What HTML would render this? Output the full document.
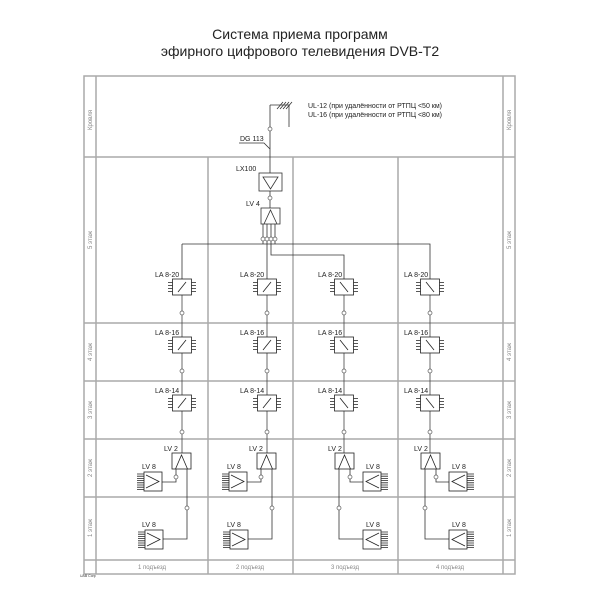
<!DOCTYPE html>
<html><head><meta charset="utf-8"><style>body{margin:0;background:#fff}svg{display:block}</style></head><body>
<svg width="600" height="600" viewBox="0 0 600 600" xmlns="http://www.w3.org/2000/svg" font-family="Liberation Sans, sans-serif">
<defs>
<g id="laR" fill="none" stroke="#222" stroke-width="0.8">
<rect x="-9.5" y="0" width="19" height="16" fill="#fff"/>
<path d="M-4 13 L4 3"/>
<path d="M-14 3.5h4.5M-14 6.5h4.5M-14 9.5h4.5M-14 12.5h4.5M9.5 3.5h4.5M9.5 6.5h4.5M9.5 9.5h4.5M9.5 12.5h4.5"/>
</g>
<g id="laL" fill="none" stroke="#222" stroke-width="0.8">
<rect x="-9.5" y="0" width="19" height="16" fill="#fff"/>
<path d="M-4 3 L4 13"/>
<path d="M-14 3.5h4.5M-14 6.5h4.5M-14 9.5h4.5M-14 12.5h4.5M9.5 3.5h4.5M9.5 6.5h4.5M9.5 9.5h4.5M9.5 12.5h4.5"/>
</g>
<g id="lv2" fill="none" stroke="#222" stroke-width="0.8">
<rect x="0" y="0" width="19" height="16" fill="#fff"/>
<path d="M3.5 16 L9.5 2 L15.5 16"/>
</g>
<g id="lv8r" fill="none" stroke="#222" stroke-width="0.8">
<rect x="0" y="0" width="18" height="19" fill="#fff"/>
<path d="M2 3 L15 9.5 L2 16"/>
<path d="M-7 2h7M-7 4.2h7M-7 6.4h7M-7 8.6h7M-7 10.8h7M-7 13h7M-7 15.2h7M-7 17.4h7"/>
</g>
<g id="lv8l" fill="none" stroke="#222" stroke-width="0.8">
<rect x="0" y="0" width="18" height="19" fill="#fff"/>
<path d="M16 3 L3 9.5 L16 16"/>
<path d="M18 2h7M18 4.2h7M18 6.4h7M18 8.6h7M18 10.8h7M18 13h7M18 15.2h7M18 17.4h7"/>
</g>
<circle id="c" r="2" fill="#fff" stroke="#555" stroke-width="0.7"/>
</defs>

<text x="300" y="39" font-size="14" text-anchor="middle" fill="#222">Система приема программ</text>
<text x="300" y="56" font-size="14" text-anchor="middle" fill="#222">эфирного цифрового телевидения DVB-T2</text>

<g fill="none" stroke="#aaa" stroke-width="1.5">
<rect x="84" y="76" width="431" height="498"/>
<path d="M96 76V574M503 76V574"/>
<path d="M84 157H515M84 323H515M84 381H515M84 439H515M84 497H515M84 560H515"/>
<path d="M208 157V574M293 157V574M398 157V574"/>
</g>

<g font-size="6" fill="#888" text-anchor="middle">
<text transform="translate(92,120) rotate(-90)">Кровля</text>
<text transform="translate(511,120) rotate(-90)">Кровля</text>
<text transform="translate(92,240) rotate(-90)">5 этаж</text>
<text transform="translate(511,240) rotate(-90)">5 этаж</text>
<text transform="translate(92,352) rotate(-90)">4 этаж</text>
<text transform="translate(511,352) rotate(-90)">4 этаж</text>
<text transform="translate(92,410) rotate(-90)">3 этаж</text>
<text transform="translate(511,410) rotate(-90)">3 этаж</text>
<text transform="translate(92,468) rotate(-90)">2 этаж</text>
<text transform="translate(511,468) rotate(-90)">2 этаж</text>
<text transform="translate(92,528) rotate(-90)">1 этаж</text>
<text transform="translate(511,528) rotate(-90)">1 этаж</text>
<text x="152" y="569">1 подъезд</text>
<text x="250" y="569">2 подъезд</text>
<text x="345" y="569">3 подъезд</text>
<text x="450" y="569">4 подъезд</text>
</g>
<text x="80" y="577" font-size="3.5" fill="#333">UAB Corp</text>

<g fill="none" stroke="#333" stroke-width="0.8">
<path d="M270 105V173M270 105H290M289 105V127"/>
<path d="M277 109l6-7M280 109l6-7M283 109l6-7M286 109l6-7"/>
<path d="M239 143H264L270 149"/>
<rect x="259" y="173" width="23" height="18"/>
<path d="M263 177H278L270.5 189Z"/>
<path d="M270 191V208"/>
<rect x="261" y="208" width="19" height="16"/>
<path d="M264 224L270.5 210L277 224"/>
<path d="M263 224V239M267 224V239M271 224V239M275 224V239"/>
<path d="M182 244H430V279"/>
<path d="M182 244V279"/>
<path d="M263 241V244M267 241V279M271 241V255H344V279M275 241V244"/>
</g>
<use href="#c" x="270" y="129"/><use href="#c" x="270" y="198"/>
<use href="#c" x="263" y="239"/><use href="#c" x="267" y="239"/><use href="#c" x="271" y="239"/><use href="#c" x="275" y="239"/>
<g font-size="7" fill="#222">
<text x="308" y="108">UL-12 (при удалённости от РТПЦ &lt;50 км)</text>
<text x="308" y="117">UL-16 (при удалённости от РТПЦ &lt;80 км)</text>
<text x="240" y="141">DG 113</text>
<text x="236" y="171">LX100</text>
<text x="246" y="206">LV 4</text>
</g>

<g fill="none" stroke="#444" stroke-width="0.8">
<path d="M182 279V453M267 279V453M344 279V453M430 279V453"/>
</g>
<g font-size="7" fill="#222">
<text x="155" y="277">LA 8-20</text><text x="240" y="277">LA 8-20</text><text x="318" y="277">LA 8-20</text><text x="404" y="277">LA 8-20</text>
<text x="155" y="335">LA 8-16</text><text x="240" y="335">LA 8-16</text><text x="318" y="335">LA 8-16</text><text x="404" y="335">LA 8-16</text>
<text x="155" y="393">LA 8-14</text><text x="240" y="393">LA 8-14</text><text x="318" y="393">LA 8-14</text><text x="404" y="393">LA 8-14</text>
</g>
<use href="#laR" x="182" y="279"/><use href="#laR" x="267" y="279"/><use href="#laL" x="344" y="279"/><use href="#laL" x="430" y="279"/>
<use href="#laR" x="182" y="337"/><use href="#laR" x="267" y="337"/><use href="#laL" x="344" y="337"/><use href="#laL" x="430" y="337"/>
<use href="#laR" x="182" y="395"/><use href="#laR" x="267" y="395"/><use href="#laL" x="344" y="395"/><use href="#laL" x="430" y="395"/>
<g>
<use href="#c" x="182" y="313"/><use href="#c" x="267" y="313"/><use href="#c" x="344" y="313"/><use href="#c" x="430" y="313"/>
<use href="#c" x="182" y="371"/><use href="#c" x="267" y="371"/><use href="#c" x="344" y="371"/><use href="#c" x="430" y="371"/>
<use href="#c" x="182" y="432"/><use href="#c" x="267" y="432"/><use href="#c" x="344" y="432"/><use href="#c" x="430" y="432"/>
</g>

<g fill="none" stroke="#333" stroke-width="0.8">
<path d="M176 469V482H162M187 469V539H163"/>
<path d="M261 469V482H247M272 469V539H248"/>
<path d="M350 469V482H363M339 469V539H363"/>
<path d="M436 469V482H449M425 469V539H449"/>
</g>
<use href="#lv2" x="172" y="453"/><use href="#lv2" x="257" y="453"/><use href="#lv2" x="335" y="453"/><use href="#lv2" x="421" y="453"/>
<use href="#lv8r" x="144" y="472"/><use href="#lv8r" x="229" y="472"/><use href="#lv8l" x="363" y="472"/><use href="#lv8l" x="449" y="472"/>
<use href="#lv8r" x="145" y="530"/><use href="#lv8r" x="230" y="530"/><use href="#lv8l" x="363" y="530"/><use href="#lv8l" x="449" y="530"/>
<use href="#c" x="176" y="477"/><use href="#c" x="261" y="477"/><use href="#c" x="350" y="477"/><use href="#c" x="436" y="477"/>
<use href="#c" x="187" y="508"/><use href="#c" x="272" y="508"/><use href="#c" x="339" y="508"/><use href="#c" x="425" y="508"/>
<g font-size="7" fill="#222">
<text x="164" y="451">LV 2</text><text x="249" y="451">LV 2</text><text x="328" y="451">LV 2</text><text x="414" y="451">LV 2</text>
<text x="142" y="469">LV 8</text><text x="227" y="469">LV 8</text><text x="366" y="469">LV 8</text><text x="452" y="469">LV 8</text>
<text x="142" y="527">LV 8</text><text x="227" y="527">LV 8</text><text x="366" y="527">LV 8</text><text x="452" y="527">LV 8</text>
</g>
</svg>
</body></html>
